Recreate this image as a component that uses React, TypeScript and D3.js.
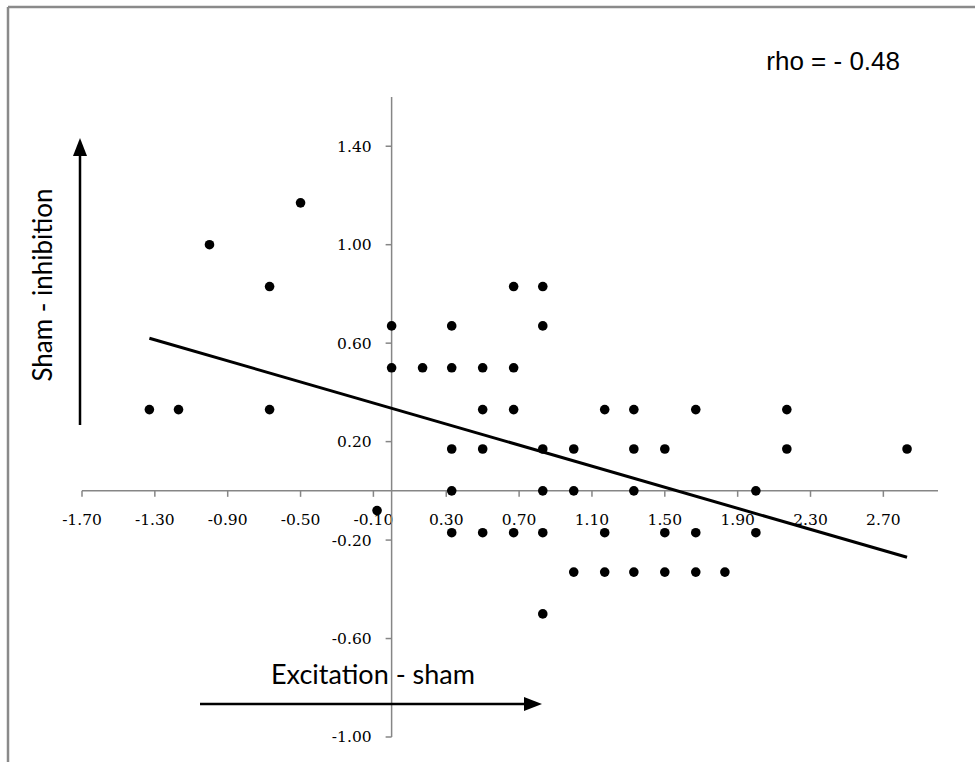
import React from "react";
import * as d3 from "d3";

// Data (x: Excitation - sham, y: Sham - inhibition)
const xValues = [
  -1.33, -1.17, -1.0, -0.67, -0.67, -0.5, -0.08, 0.0, 0.0, 0.17,
  0.33, 0.33, 0.33, 0.33, 0.33,
  0.5, 0.5, 0.5, 0.5,
  0.67, 0.67, 0.67, 0.67,
  0.83, 0.83, 0.83, 0.83, 0.83, 0.83,
  1.0, 1.0, 1.0,
  1.17, 1.17, 1.17,
  1.33, 1.33, 1.33, 1.33,
  1.5, 1.5, 1.5,
  1.67, 1.67, 1.67,
  1.83,
  2.0, 2.0,
  2.17, 2.17,
  2.83,
];
const yValues = [
  0.33, 0.33, 1.0, 0.83, 0.33, 1.17, -0.08, 0.67, 0.5, 0.5,
  0.67, 0.5, 0.17, 0.0, -0.17,
  0.5, 0.33, 0.17, -0.17,
  0.83, 0.5, 0.33, -0.17,
  0.83, 0.67, 0.17, 0.0, -0.17, -0.5,
  0.17, 0.0, -0.33,
  0.33, -0.17, -0.33,
  0.33, 0.17, 0.0, -0.33,
  0.17, -0.17, -0.33,
  0.33, -0.17, -0.33,
  -0.33,
  0.0, -0.17,
  0.33, 0.17,
  0.17,
];
// Linear trend line (as drawn in the reference), endpoints in data units
const trendX = [-1.33, 2.83];
const trendY = [0.62, -0.27];

const xTicks = [-1.7, -1.3, -0.9, -0.5, -0.1, 0.3, 0.7, 1.1, 1.5, 1.9, 2.3, 2.7];
const yTicks = [-1.0, -0.6, -0.2, 0.2, 0.6, 1.0, 1.4];
const xDomain = [-1.7, 3.0];
const yDomain = [-1.0, 1.6];
const xTitle = "Excitation - sham";
const yTitle = "Sham - inhibition";
const annotation = "rho = - 0.48";

export default function App() {
  const W = 975;
  const H = 762;
  const x = d3.scaleLinear().domain(xDomain).range([82, 938]);
  const y = d3.scaleLinear().domain(yDomain).range([737, 97]);
  const fmt = (v: number) => d3.format(".2f")(v).replace("\u2212", "-");

  const trend = trendX.map((v, i) => [v, trendY[i]] as [number, number]);
  const line = d3
    .line<[number, number]>()
    .x((d) => x(d[0]))
    .y((d) => y(d[1]));

  const axisColor = "#868686";
  const x0 = x(0);
  const y0 = y(0);

  return (
    <svg
      width={W}
      height={H}
      style={{ position: "absolute", left: 0, top: 0, background: "#fff" }}
    >
      <rect x={0} y={0} width={W} height={H} fill="#fff" />
      {/* frame (cropped on right/bottom) */}
      <line x1={8} y1={7} x2={W} y2={7} stroke="#8a8a8a" strokeWidth={2.5} />
      <line x1={8} y1={7} x2={8} y2={H} stroke="#8a8a8a" strokeWidth={2.5} />

      {/* x axis */}
      <line x1={x(xDomain[0])} y1={y0} x2={x(xDomain[1])} y2={y0} stroke={axisColor} strokeWidth={1.5} />
      {xTicks.map((t) => (
        <g key={"xt" + t}>
          <line x1={x(t)} x2={x(t)} y1={y0} y2={y0 + 6} stroke={axisColor} strokeWidth={1.5} />
          <text
            x={x(t)}
            y={y0 + 34}
            textAnchor="middle"
            fontFamily="'DejaVu Serif', serif"
            fontSize={15.5}
            fill="#000"
          >
            {fmt(t)}
          </text>
        </g>
      ))}

      {/* y axis */}
      <line x1={x0} y1={y(yDomain[0])} x2={x0} y2={y(yDomain[1])} stroke={axisColor} strokeWidth={1.5} />
      {yTicks.map((t) => (
        <g key={"yt" + t}>
          <line x1={x0 - 6} x2={x0} y1={y(t)} y2={y(t)} stroke={axisColor} strokeWidth={1.5} />
          <text
            x={x0 - 20}
            y={y(t)}
            dy="0.35em"
            textAnchor="end"
            fontFamily="'DejaVu Serif', serif"
            fontSize={15.5}
            fill="#000"
          >
            {fmt(t)}
          </text>
        </g>
      ))}

      {/* trend line */}
      <path d={line(trend) as string} fill="none" stroke="#000" strokeWidth={3} />

      {/* points */}
      {xValues.map((xv, i) => (
        <circle key={"p" + i} cx={x(xv)} cy={y(yValues[i])} r={4.8} fill="#000" />
      ))}

      {/* annotation */}
      <text
        x={900}
        y={70}
        textAnchor="end"
        fontFamily="'Liberation Sans Narrow', 'Liberation Sans', sans-serif"
        fontSize={26}
        fill="#000"
      >
        {annotation}
      </text>

      {/* vertical arrow + y title */}
      <line x1={80} y1={425} x2={80} y2={152} stroke="#000" strokeWidth={2.5} />
      <path d="M80,138 L87,156 L73,156 Z" fill="#000" />
      <text
        transform={`translate(52,285) rotate(-90)`}
        textAnchor="middle"
        fontFamily="Lato, sans-serif"
        fontSize={26}
        fill="#000"
      >
        {yTitle}
      </text>

      {/* horizontal arrow + x title */}
      <line x1={200} y1={704} x2={528} y2={704} stroke="#000" strokeWidth={2.5} />
      <path d="M542,704 L524,697 L524,711 Z" fill="#000" />
      <text
        x={373}
        y={684}
        textAnchor="middle"
        fontFamily="Lato, sans-serif"
        fontSize={27}
        fill="#000"
      >
        {xTitle}
      </text>
    </svg>
  );
}
